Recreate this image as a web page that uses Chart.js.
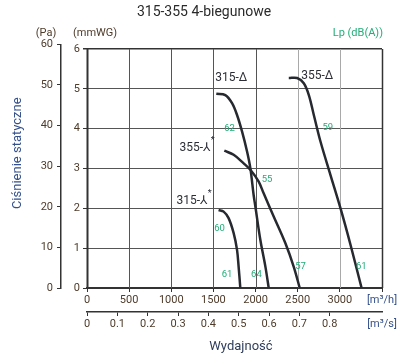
<!DOCTYPE html>
<html>
<head>
<meta charset="utf-8">
<script src="https://cdn.jsdelivr.net/npm/chart.js@4.4.1/dist/chart.umd.min.js"></script>
<style>
html,body{margin:0;padding:0;background:#fff;}
canvas{display:block;}
</style>
</head>
<body>
<canvas id="c" width="408" height="359"></canvas>
<script>
// ---------- data ----------
const PA_PER_MMWG = 9.80665;
const flowTicksM3h = [0, 500, 1000, 1500, 2000, 2500, 3000, 3500];
const flowTicksM3s = [0, 0.1, 0.2, 0.3, 0.4, 0.5, 0.6, 0.7, 0.8];
const pressureTicksPa = [0, 10, 20, 30, 40, 50, 60];
const pressureTicksMmWG = [0, 1, 2, 3, 4, 5, 6];

const curveNames = ['315-Δ', '355-Δ', '355-⅄', '315-⅄'];

const flow315D = [1534, 1641, 1721, 1780, 1840, 1899, 1938, 1977, 1998, 2057, 2117, 2156];
const pa315D   = [47.8, 47.5, 45.5, 42.6, 38.5, 33.6, 29.5, 22.9, 20.0, 11.8, 5.2, 0];

const flow355D = [2394, 2493, 2572, 2632, 2691, 2771, 2889, 3008, 3127, 3258];
const pa355D   = [51.7, 51.7, 50.4, 47.5, 42.6, 36.0, 27.8, 19.6, 10.6, 0];

const flow355Y = [1629, 1740, 1859, 1938, 2037, 2096, 2215, 2354, 2453, 2524];
const pa355Y   = [33.8, 32.8, 30.7, 29.1, 26.2, 23.3, 17.6, 11.0, 5.2, 0];

const flow315Y = [1561, 1621, 1680, 1740, 1780, 1799, 1819];
const pa315Y   = [19.2, 18.8, 17.2, 13.5, 9.4, 5.2, 0];

// curve-name annotation anchors (data coordinates)
const nameFlow     = [1712, 2731, 1463, 1427];
const namePressure = [51.7, 52.2, 34.5, 21.4];

// sound pressure level annotations
const lpValues   = ['62', '55', '60', '61', '64', '57', '59', '61'];
const lpFlow     = [1692, 2137, 1573, 1661, 2010, 2533, 2857, 3254];
const lpPressure = [39.2, 26.6, 14.7, 3.4, 3.4, 5.2, 39.5, 5.2];

// ---------- styles ----------
const FONT = "Roboto, 'DejaVu Sans', sans-serif";
const NUM_COLOR = '#4e3b2a';
const UNIT_COLOR = '#34508c';
const GREEN = '#22ae78';
const CURVE_COLOR = '#26292f';
const FRAME = '#333333';

const series = [
  {x: flow315D, y: pa315D},
  {x: flow355D, y: pa355D},
  {x: flow355Y, y: pa355Y},
  {x: flow315Y, y: pa315Y}
];

const annotPlugin = {
  id: 'annot',
  beforeDatasetsDraw(chart) {
    const ctx = chart.ctx;
    const xs = chart.scales.x, ym = chart.scales.ymm;
    const top = ym.getPixelForValue(6), bottom = ym.getPixelForValue(0);
    ctx.save();
    flowTicksM3h.forEach(v => {
      const px = Math.round(xs.getPixelForValue(v)) + 0.5;
      if (v === 0) { ctx.strokeStyle = FRAME; ctx.lineWidth = 2; }
      else if (v === 3500) { ctx.strokeStyle = FRAME; ctx.lineWidth = 1.5; }
      else if (v >= 2500) { ctx.strokeStyle = '#a9a9a9'; ctx.lineWidth = 1; }
      else { ctx.strokeStyle = '#555'; ctx.lineWidth = 1; }
      ctx.beginPath(); ctx.moveTo(px, top); ctx.lineTo(px, bottom); ctx.stroke();
    });
    ctx.restore();
  },
  afterDatasetsDraw(chart) {
    const ctx = chart.ctx;
    const xs = chart.scales.x, ys = chart.scales.y, ym = chart.scales.ymm;
    const area = chart.chartArea;
    ctx.save();
    // Lp labels
    ctx.font = "9.5px " + FONT;
    ctx.fillStyle = GREEN;
    ctx.textAlign = 'center';
    ctx.textBaseline = 'middle';
    lpValues.forEach((t, i) => {
      ctx.fillText(t, xs.getPixelForValue(lpFlow[i]), ys.getPixelForValue(lpPressure[i]));
    });
    // curve names
    ctx.fillStyle = '#2b2e36';
    curveNames.forEach((t, i) => {
      const px = xs.getPixelForValue(nameFlow[i]);
      const py = ys.getPixelForValue(namePressure[i]);
      if (t.indexOf('⅄') >= 0) {
        ctx.font = "12px " + FONT;
        ctx.textAlign = 'right';
        ctx.fillText(t, px, py);
        ctx.font = "9px " + FONT;
        ctx.textAlign = 'left';
        ctx.fillText('*', px + 0.5, py - 7);
      } else {
        ctx.font = "12px " + FONT;
        ctx.textAlign = 'center';
        ctx.fillText(t, px, py);
      }
    });
    // unit labels
    ctx.font = "11px " + FONT;
    ctx.textAlign = 'center';
    ctx.fillStyle = NUM_COLOR;
    const uy = area.top - 11;
    ctx.fillText('(Pa)', ys.right - 15, uy);
    ctx.textAlign = 'left';
    ctx.fillText('(mmWG)', ym.left + 12, uy);
    ctx.textAlign = 'right';
    ctx.fillStyle = GREEN;
    ctx.fillText('Lp (dB(A))', area.right + 1, uy);
    ctx.restore();
  }
};

new Chart(document.getElementById('c'), {
  type: 'line',
  data: {
    datasets: series.map((s, k) => ({
      label: curveNames[k],
      data: s.x.map((v, i) => ({x: v, y: s.y[i]})),
      borderColor: CURVE_COLOR,
      borderWidth: 2.5,
      pointRadius: 0,
      tension: 0.35,
      fill: false,
      xAxisID: 'x',
      yAxisID: 'y'
    }))
  },
  options: {
    responsive: false,
    animation: false,
    devicePixelRatio: 1,
    layout: {padding: {left: 0, right: 0, top: 0, bottom: 0}},
    plugins: {
      legend: {display: false},
      tooltip: {enabled: false},
      title: {
        display: true,
        text: '315-355 4-biegunowe',
        color: '#2a2a2a',
        font: {family: FONT, size: 14, weight: 'normal'},
        padding: {top: 4, bottom: 23.5}
      }
    },
    scales: {
      x: {
        type: 'linear', position: 'bottom', weight: 0,
        min: 0, max: 3500,
        afterBuildTicks: s => { s.ticks = flowTicksM3h.map(v => ({value: v})); },
        ticks: {
          autoSkip: false, maxRotation: 0, padding: 2,
          font: {family: FONT, size: 11},
          color: c => c.tick && c.tick.value === 3500 ? UNIT_COLOR : NUM_COLOR,
          callback: v => v === 3500 ? '[m³/h]' : String(v)
        },
        grid: {drawOnChartArea: false, drawTicks: true, tickLength: 4, color: FRAME},
        border: {display: true, color: FRAME, width: 2},
        afterFit: s => { s.height = 24; }
      },
      xs: {
        type: 'linear', position: 'bottom', weight: 1,
        min: 0, max: 3500 / 3600,
        afterBuildTicks: s => { s.ticks = flowTicksM3s.concat([3500 / 3600]).map(v => ({value: v})); },
        ticks: {
          autoSkip: false, maxRotation: 0, padding: 2,
          font: {family: FONT, size: 11},
          color: c => c.index === flowTicksM3s.length ? UNIT_COLOR : NUM_COLOR,
          callback: (v, i) => i === flowTicksM3s.length ? '[m³/s]' : (v === 0 ? '0' : v.toFixed(1))
        },
        grid: {
          drawOnChartArea: false, drawTicks: true, tickLength: 4,
          color: c => c.index === flowTicksM3s.length ? 'rgba(0,0,0,0)' : FRAME
        },
        border: {display: true, color: FRAME, width: 1.5},
        title: {
          display: true, text: '    Wydajność', color: '#2f3d5c',
          font: {family: FONT, size: 13},
          padding: {top: 0, bottom: 4}
        },
        afterFit: s => { s.height = 47; }
      },
      y: {
        type: 'linear', position: 'left', weight: 1,
        min: 0, max: 60,
        afterBuildTicks: s => { s.ticks = pressureTicksPa.map(v => ({value: v})); },
        ticks: {padding: 4, font: {family: FONT, size: 11}, color: NUM_COLOR},
        grid: {drawOnChartArea: false, drawTicks: true, tickLength: 4, color: FRAME},
        border: {display: true, color: FRAME, width: 1.5},
        title: {
          display: true, text: '        Ciśnienie statyczne', color: '#34508c',
          font: {family: FONT, size: 13},
          padding: {top: 10, bottom: 0}
        },
        afterFit: s => { s.width = 61; }
      },
      ymm: {
        type: 'linear', position: 'left', weight: 0,
        min: 0, max: 60 / PA_PER_MMWG,
        afterBuildTicks: s => { s.ticks = pressureTicksMmWG.map(v => ({value: v})); },
        ticks: {padding: 3, font: {family: FONT, size: 11}, color: NUM_COLOR},
        grid: {
          drawOnChartArea: true, drawTicks: true, tickLength: 4,
          color: c => (c.tick && c.tick.value === 6) ? FRAME : '#555',
          lineWidth: c => (c.tick && c.tick.value === 6) ? 1.5 : 1,
          tickColor: FRAME
        },
        border: {display: false},
        afterFit: s => { s.width = 26; }
      },
      spacer: {
        type: 'linear', position: 'right', display: true,
        ticks: {display: false},
        grid: {display: false},
        border: {display: false},
        afterFit: s => { s.width = 26; }
      }
    }
  },
  plugins: [annotPlugin]
});
</script>
</body>
</html>
